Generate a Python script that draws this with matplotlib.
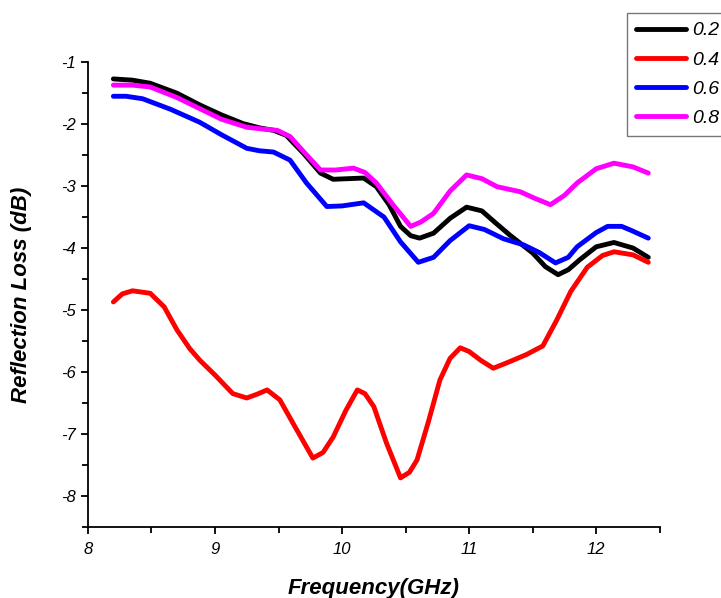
import matplotlib
matplotlib.use("Agg")
import matplotlib.pyplot as plt
from matplotlib.ticker import MultipleLocator

plt.rcParams["font.family"] = ["Liberation Sans", "DejaVu Sans"]
plt.rcParams["axes.unicode_minus"] = False

# reflection loss vs frequency for four filler ratios
freq_02 = [8.20, 8.35, 8.49, 8.70, 8.88, 9.05, 9.22, 9.35, 9.46, 9.56, 9.70, 9.83, 9.93,
           10.05, 10.17, 10.27, 10.37, 10.46, 10.54, 10.61, 10.72, 10.85, 10.98, 11.10,
           11.20, 11.32, 11.50, 11.60, 11.70, 11.78, 11.87, 12.00, 12.14, 12.29, 12.41]
rl_02 = [-1.27, -1.29, -1.34, -1.50, -1.69, -1.85, -1.99, -2.06, -2.10, -2.18, -2.48, -2.79, -2.89,
         -2.88, -2.87, -3.01, -3.30, -3.65, -3.80, -3.84, -3.76, -3.52, -3.34, -3.40,
         -3.58, -3.79, -4.08, -4.30, -4.43, -4.35, -4.19, -3.98, -3.91, -4.00, -4.15]

freq_04 = [8.20, 8.27, 8.35, 8.49, 8.60, 8.70, 8.80, 8.88, 9.00, 9.14, 9.25, 9.33, 9.41, 9.51,
           9.62, 9.77, 9.85, 9.93, 10.03, 10.12, 10.18, 10.25, 10.35, 10.46, 10.53, 10.59,
           10.68, 10.77, 10.85, 10.93, 11.00, 11.09, 11.19, 11.30, 11.45, 11.58, 11.69,
           11.80, 11.93, 12.05, 12.14, 12.29, 12.41]
rl_04 = [-4.87, -4.74, -4.69, -4.73, -4.95, -5.32, -5.62, -5.81, -6.05, -6.35, -6.42, -6.36, -6.29, -6.45,
         -6.85, -7.39, -7.30, -7.05, -6.62, -6.29, -6.35, -6.56, -7.15, -7.71, -7.62, -7.42,
         -6.80, -6.13, -5.78, -5.61, -5.67, -5.81, -5.94, -5.85, -5.72, -5.58, -5.16,
         -4.70, -4.31, -4.12, -4.06, -4.11, -4.23]

freq_06 = [8.20, 8.30, 8.43, 8.65, 8.88, 9.05, 9.25, 9.35, 9.46, 9.59, 9.72, 9.88, 10.00,
           10.17, 10.33, 10.46, 10.60, 10.72, 10.85, 11.00, 11.12, 11.27, 11.43, 11.55,
           11.68, 11.78, 11.85, 12.00, 12.09, 12.20, 12.27, 12.41]
rl_06 = [-1.55, -1.55, -1.59, -1.76, -1.97, -2.17, -2.39, -2.43, -2.45, -2.58, -2.95, -3.33, -3.32,
         -3.27, -3.50, -3.90, -4.23, -4.15, -3.88, -3.64, -3.70, -3.85, -3.95, -4.07,
         -4.24, -4.15, -3.98, -3.75, -3.65, -3.65, -3.71, -3.84]

freq_08 = [8.20, 8.35, 8.49, 8.70, 8.88, 9.05, 9.25, 9.38, 9.49, 9.59, 9.70, 9.83, 9.95,
           10.09, 10.18, 10.27, 10.40, 10.54, 10.62, 10.72, 10.85, 10.98, 11.10, 11.22,
           11.40, 11.52, 11.64, 11.75, 11.85, 12.00, 12.14, 12.29, 12.41]
rl_08 = [-1.37, -1.37, -1.40, -1.57, -1.75, -1.92, -2.05, -2.08, -2.10, -2.20, -2.45, -2.74, -2.74,
         -2.71, -2.78, -2.95, -3.30, -3.65, -3.58, -3.44, -3.08, -2.82, -2.88, -3.01,
         -3.09, -3.20, -3.30, -3.15, -2.95, -2.72, -2.63, -2.69, -2.79]

labels = ["0.2", "0.4", "0.6", "0.8"]
colors = ["black", "#ff0000", "#0000ff", "#ff00ff"]

fig = plt.figure(figsize=(7.21, 5.98), dpi=100)
ax = fig.add_axes([0.122, 0.119, 0.793, 0.777])

series = [(freq_02, rl_02), (freq_04, rl_04), (freq_06, rl_06), (freq_08, rl_08)]
for (f, rl), lab, c in zip(series, labels, colors):
    ax.plot(f, rl, color=c, lw=3.5, label=lab, solid_joinstyle="round", solid_capstyle="round")

ax.set_xlim(8, 12.5)
ax.set_ylim(-8.5, -1)
ax.xaxis.set_major_locator(MultipleLocator(1))
ax.xaxis.set_minor_locator(MultipleLocator(0.5))
ax.yaxis.set_major_locator(MultipleLocator(1))
ax.yaxis.set_minor_locator(MultipleLocator(0.5))

for side in ["top", "right"]:
    ax.spines[side].set_visible(False)
for side in ["left", "bottom"]:
    ax.spines[side].set_linewidth(1.3)

ax.tick_params(which="major", direction="out", length=5, width=1.3, labelsize=12)
ax.tick_params(which="minor", direction="out", length=4, width=1.3)
ax.tick_params(axis="x", pad=6)
ax.tick_params(axis="y", pad=4)
for t in ax.get_xticklabels() + ax.get_yticklabels():
    t.set_fontstyle("italic")

ax.set_xlabel("Frequency(GHz)", fontsize=16, fontweight="bold", fontstyle="italic")
ax.set_ylabel("Reflection Loss (dB)", fontsize=16, fontweight="bold", fontstyle="italic")
ax.xaxis.set_label_coords(0.5, -0.11)
ax.yaxis.set_label_coords(-0.098, 0.5)

leg = fig.legend(loc="upper left", bbox_to_anchor=(627 / 721, 1 - 13 / 598),
                 bbox_transform=fig.transFigure, frameon=True, fancybox=False,
                 fontsize=14, handlelength=2.6, handletextpad=0.3, borderpad=0.45,
                 labelspacing=0.6, borderaxespad=0)
leg.get_frame().set_edgecolor("#555555")
leg.get_frame().set_linewidth(1.0)
for t in leg.get_texts():
    t.set_fontstyle("italic")

fig.savefig("out.png", dpi=100)
